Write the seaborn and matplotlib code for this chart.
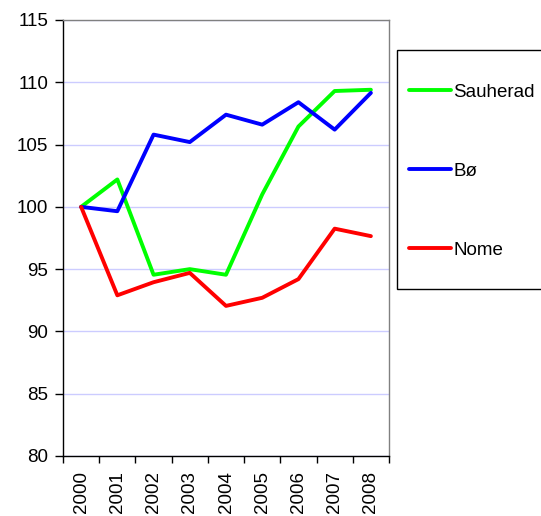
import numpy as np
import pandas as pd
import matplotlib
matplotlib.use("Agg")
import matplotlib.pyplot as plt
import seaborn as sns
from matplotlib.patches import Rectangle

YEARS = ["2000", "2001", "2002", "2003", "2004", "2005", "2006", "2007", "2008"]
SERIES = ["Sauherad", "Bø", "Nome"]
SAUHERAD = [100.0, 102.2, 94.55, 95.0, 94.55, 101.0, 106.45, 109.3, 109.4]
BO = [100.0, 99.65, 105.8, 105.2, 107.4, 106.6, 108.4, 106.2, 109.15]
NOME = [100.0, 92.9, 93.95, 94.7, 92.05, 92.7, 94.2, 98.25, 97.65]
COLORS = ["#00ff00", "#0000ff", "#ff0000"]
Y_TICKS = [80, 85, 90, 95, 100, 105, 110, 115]

sns.set_theme(style="white")
plt.rcParams["font.family"] = ["Liberation Sans", "DejaVu Sans"]

df = pd.DataFrame({
    "pos": list(range(len(YEARS))) * 3,
    "value": SAUHERAD + BO + NOME,
    "kommune": [s for s in SERIES for _ in YEARS],
})

W, H = 541, 516
fig = plt.figure(figsize=(W / 100, H / 100), dpi=100)
ax = fig.add_axes([63 / W, 1 - 456 / H, (389 - 63) / W, (456 - 20) / H])

sns.lineplot(data=df, x="pos", y="value", hue="kommune", hue_order=SERIES,
             palette=COLORS, linewidth=2.8, ax=ax, legend=True)

ax.set_xlim(-0.5, len(YEARS) - 0.5)
ax.set_ylim(80, 115)
ax.set_yticks(Y_TICKS)
ax.set_yticklabels([str(t) for t in Y_TICKS], fontsize=13.5, color="black")
ax.set_xticks(range(len(YEARS)))
ax.set_xticklabels(YEARS, rotation=90, fontsize=13.5, color="black")
ax.set_xticks(np.arange(-0.5, len(YEARS)), minor=True)
ax.tick_params(axis="x", which="major", length=0, pad=11)
ax.tick_params(axis="x", which="minor", length=5, width=1, color="black", direction="out", bottom=True)
ax.tick_params(axis="y", length=5.5, width=1, color="black", direction="out", left=True, pad=5)
ax.set_xlabel("")
ax.set_ylabel("")

ax.grid(axis="y", color="#ccccff", linewidth=1)
ax.set_axisbelow(True)
for side in ["left", "bottom"]:
    ax.spines[side].set_color("black")
    ax.spines[side].set_linewidth(1)
for side in ["top", "right"]:
    ax.spines[side].set_color("#808080")
    ax.spines[side].set_linewidth(1)

# legend box drawn separately, entries spread out like the original
fig.patches.append(Rectangle((397 / W, 1 - 289 / H), 150 / W, 239 / H,
                             transform=fig.transFigure, facecolor="white",
                             edgecolor="black", linewidth=1, zorder=-1))
handles, labels = ax.get_legend_handles_labels()
ax.get_legend().remove()
fig.legend(handles, labels, loc="center left", bbox_to_anchor=(400 / W, 1 - 171 / H),
           bbox_transform=fig.transFigure, frameon=False, fontsize=13.5,
           labelcolor="black", borderpad=0, handlelength=2.2, handletextpad=0.15,
           labelspacing=3.3)

fig.savefig("out.png", dpi=100)
